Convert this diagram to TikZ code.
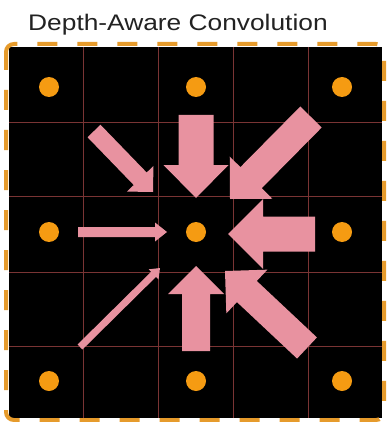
\documentclass[tikz,border=0pt]{standalone}
\usepackage{fontspec}
\setmainfont{Liberation Sans}
\usetikzlibrary{calc}
\definecolor{pinkarr}{HTML}{E892A0}
\definecolor{dotorange}{HTML}{F59B12}
\definecolor{borderorange}{HTML}{E69B2C}
\definecolor{gridred}{HTML}{7A3434}
\definecolor{titlegray}{HTML}{222222}
\tikzset{
  dotnode/.style={circle,fill=dotorange,draw=none,minimum size=20pt,inner sep=0pt},
  gridline/.style={draw=gridred,line width=0.9pt},
  dashborder/.style={draw=borderorange,line width=4pt,dash pattern=on 20pt off 20pt,dash phase=2pt,rounded corners=8pt},
  pinkfill/.style={fill=pinkarr,draw=none},
  titletext/.style={inner sep=0pt,anchor=base west,text=titlegray,font=\fontsize{22.5}{26}\selectfont,xscale=1.17}
}
% #1 tail name, #2 tip name, #3 shaft half width, #4 head half width, #5 head length
\newcommand\BlockArrow[5]{%
  \coordinate (#1b) at ($(#2)!#5!(#1)$);
  \fill[pinkfill]
    ($(#1)!#3!90:(#2)$) -- ($(#1b)!#3!90:(#2)$) -- ($(#1b)!#4!90:(#2)$) --
    (#2) --
    ($(#1b)!#4!-90:(#2)$) -- ($(#1b)!#3!-90:(#2)$) -- ($(#1)!#3!-90:(#2)$) -- cycle;
}
\begin{document}
\begin{tikzpicture}[x=1pt,y=-1pt]
\useasboundingbox (0,0) rectangle (386,422);
\fill[white] (0,0) rectangle (386,422);
% title
\node[titletext] (title) at (28,31) {Depth-Aware Convolution};
% black field
\fill[black] (9,47) rectangle (382,418);
% grid
\foreach \gx in {83,158,233,308} \draw[gridline] (\gx,47) -- (\gx,418);
\foreach \gy in {122,196,272,346} \draw[gridline] (9,\gy) -- (382,\gy);
% dashed border
\draw[dashborder] (6,44) rectangle (384,420);
% dots
\node[dotnode] (d11) at (49,87) {};
\node[dotnode] (d12) at (196,87) {};
\node[dotnode] (d13) at (342,87) {};
\node[dotnode] (d21) at (49,232) {};
\node[dotnode] (center) at (196,232) {};
\node[dotnode] (d23) at (342,232) {};
\node[dotnode] (d31) at (49,381) {};
\node[dotnode] (d32) at (196,381) {};
\node[dotnode] (d33) at (342,381) {};
% arrow coordinates
\coordinate (tlT) at (94,131);   \coordinate (tlP) at (153,192);
\coordinate (tT)  at (196,115);  \coordinate (tP)  at (196,198);
\coordinate (trT) at (311,117);  \coordinate (trP) at (230,199);
\coordinate (lT)  at (78,232);   \coordinate (lP)  at (167,232);
\coordinate (rT)  at (315,234);  \coordinate (rP)  at (228,234);
\coordinate (blT) at (80,347);   \coordinate (blP) at (160,268);
\coordinate (bT)  at (196,351);  \coordinate (bP)  at (196,266);
\coordinate (brT) at (307,348);  \coordinate (brP) at (225,271);
% arrows
\BlockArrow{tlT}{tlP}{9pt}{18.4pt}{18.4pt}
\BlockArrow{tT}{tP}{17.5pt}{32.5pt}{33pt}
\BlockArrow{trT}{trP}{15pt}{30pt}{30pt}
\BlockArrow{lT}{lP}{5pt}{9.5pt}{12pt}
\BlockArrow{rT}{rP}{17.5pt}{35pt}{35pt}
\BlockArrow{blT}{blP}{3.5pt}{7pt}{9pt}
\BlockArrow{bT}{bP}{14pt}{28pt}{28pt}
\BlockArrow{brT}{brP}{14.5pt}{30pt}{30pt}
\end{tikzpicture}
\end{document}
